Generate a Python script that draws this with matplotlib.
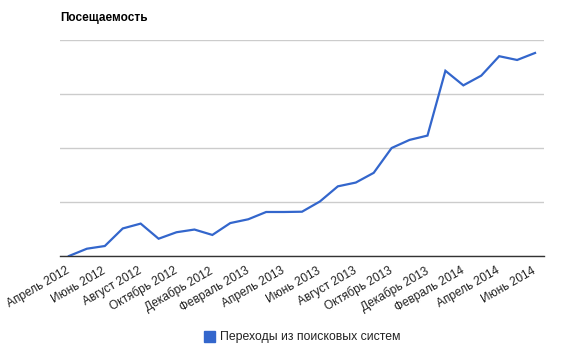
import numpy as np
import matplotlib.pyplot as plt

plt.rcParams['font.family'] = ['Liberation Sans', 'DejaVu Sans']

# monthly visits from search engines, April 2012 .. June 2014 (relative units)
months = ["Апрель 2012", "Май 2012", "Июнь 2012", "Июль 2012", "Август 2012",
          "Сентябрь 2012", "Октябрь 2012", "Ноябрь 2012", "Декабрь 2012",
          "Январь 2013", "Февраль 2013", "Март 2013", "Апрель 2013", "Май 2013",
          "Июнь 2013", "Июль 2013", "Август 2013", "Сентябрь 2013", "Октябрь 2013",
          "Ноябрь 2013", "Декабрь 2013", "Январь 2014", "Февраль 2014", "Март 2014",
          "Апрель 2014", "Май 2014", "Июнь 2014"]
visits = [0.0, 0.135, 0.185, 0.51, 0.60, 0.32, 0.44, 0.49, 0.39, 0.61, 0.68,
          0.815, 0.815, 0.82, 1.01, 1.29, 1.36, 1.54, 2.00, 2.15, 2.23,
          3.43, 3.16, 3.34, 3.70, 3.63, 3.76]
series_name = "Переходы из поисковых систем"

fig = plt.figure(figsize=(5.70, 3.61), dpi=100)
ax = fig.add_axes([60 / 570, 1 - 256 / 361, 484 / 570, 216 / 361])

x = np.arange(len(months))
ax.plot(x, visits, color='#3366cc', linewidth=1.6, solid_joinstyle='miter', zorder=3)

ax.set_xlim(-0.5, 26.5)
ax.set_ylim(0, 4)
ax.set_yticks([0, 1, 2, 3, 4])
ax.set_yticklabels([])
ax.tick_params(axis='y', length=0)
ax.grid(axis='y', color='#cccccc', linewidth=1)
ax.set_axisbelow(True)

ax.set_xticks(x[::2])
ax.set_xticklabels(months[::2], rotation=30, ha='right', va='center',
                   rotation_mode='anchor', fontsize=8.6, color='#222222')
ax.tick_params(axis='x', length=0, pad=10)

for side in ['top', 'right', 'left']:
    ax.spines[side].set_visible(False)
ax.spines['bottom'].set_color('#333333')
ax.spines['bottom'].set_linewidth(1)
ax.spines['bottom'].set_zorder(4)

fig.text(60 / 570, 1 - 18 / 361, "Посещаемость", fontsize=8.5, fontweight='bold',
         va='center', ha='left', color='black')

# legend
fig.patches.append(plt.Rectangle((204 / 570, 1 - 342 / 361), 11 / 570, 11 / 361,
                                 transform=fig.transFigure, color='#3366cc'))
fig.text(220 / 570, 1 - 337 / 361, series_name, fontsize=8.8, va='center',
         ha='left', color='#222222')

fig.savefig('out.png', dpi=100, facecolor='white')
